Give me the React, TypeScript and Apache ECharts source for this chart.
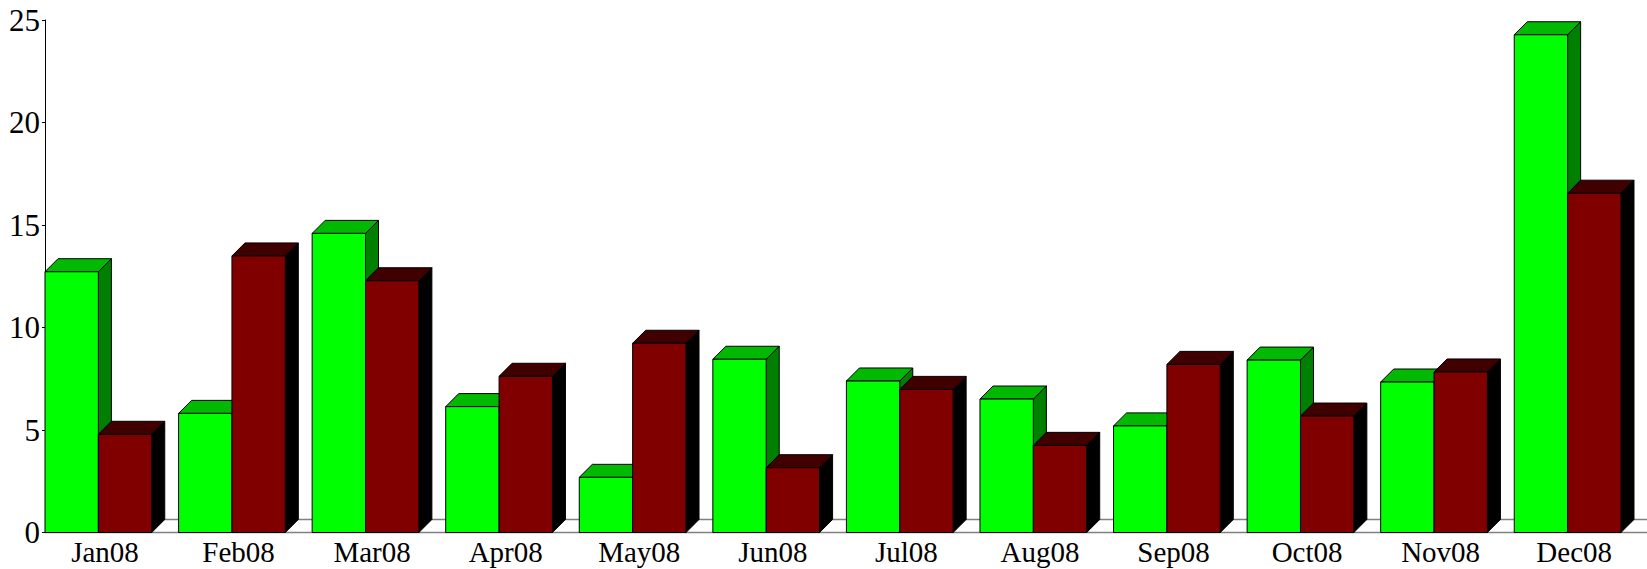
import React, { useEffect, useRef } from "react";
import * as echarts from "echarts";

const categories = ["Jan08", "Feb08", "Mar08", "Apr08", "May08", "Jun08", "Jul08", "Aug08", "Sep08", "Oct08", "Nov08", "Dec08"];
const greenValues = [12.72, 5.81, 14.59, 6.14, 2.69, 8.45, 7.39, 6.51, 5.2, 8.41, 7.34, 24.28];
const redValues = [4.79, 13.49, 12.28, 7.62, 9.23, 3.16, 6.98, 4.25, 8.2, 5.68, 7.83, 16.55];
const yTicks = { min: 0, max: 25, interval: 5 };

const FONT = "'Liberation Serif', 'Times New Roman', serif";
const BAR_FRAC = 0.3995;
const DEPTH_FRAC = 0.0975;
const START_FRAC = 0.449;

function makeBarRenderer(slot: number, front: string, topC: string, side: string) {
  return (params: any, api: any) => {
    const idx = api.value(0);
    const v = api.value(1);
    const base = api.coord([idx, 0]);
    const top = api.coord([idx, v]);
    const w = api.size([1, 0])[0];
    const bw = w * BAR_FRAC;
    const d = w * DEPTH_FRAC;
    const x0 = base[0] - w * START_FRAC + slot * bw;
    const yT = top[1];
    const yB = base[1];
    const stroke = { stroke: "#000", lineWidth: 1 };
    return {
      type: "group",
      children: [
        {
          type: "polygon",
          shape: { points: [[x0 + bw, yT], [x0 + bw + d, yT - d], [x0 + bw + d, yB - d], [x0 + bw, yB]] },
          style: { fill: side, ...stroke },
        },
        {
          type: "polygon",
          shape: { points: [[x0, yT], [x0 + d, yT - d], [x0 + bw + d, yT - d], [x0 + bw, yT]] },
          style: { fill: topC, ...stroke },
        },
        {
          type: "rect",
          shape: { x: x0, y: yT, width: bw, height: yB - yT },
          style: { fill: front, ...stroke },
        },
      ],
    };
  };
}

export default function App() {
  const ref = useRef<HTMLDivElement>(null);
  useEffect(() => {
    if (!ref.current) return;
    const chart = echarts.init(ref.current, undefined, { renderer: "svg" });
    const option: any = {
      animation: false,
      backgroundColor: "#ffffff",
      grid: { left: 38.2, top: 20, width: 1602.8, bottom: 36.5, containLabel: false },
      xAxis: {
        type: "category",
        data: categories,
        axisLine: { show: false },
        axisTick: { show: false },
        axisLabel: { fontFamily: FONT, fontSize: 29, lineHeight: 22, color: "#000", margin: 8.5, interval: 0 },
        splitLine: { show: false },
      },
      yAxis: {
        type: "value",
        min: yTicks.min,
        max: yTicks.max,
        interval: yTicks.interval,
        offset: -6.8,
        axisLine: { show: true, lineStyle: { color: "#000", width: 1 } },
        axisTick: { show: true, length: 3, lineStyle: { color: "#000" } },
        axisLabel: { fontFamily: FONT, fontSize: 31, color: "#000", margin: 5 },
        splitLine: { show: false },
      },
      series: [
        {
          type: "custom",
          name: "floor",
          silent: true,
          z: 1,
          data: [[0, 0]],
          encode: { x: 0, y: 1 },
          renderItem: (params: any, api: any) => {
            const cs = params.coordSys;
            const w = api.size([1, 0])[0];
            const d = w * DEPTH_FRAC;
            const y0 = api.coord([0, 0])[1];
            const xs = cs.x + w * (0.5 - START_FRAC);
            const xe = api.getWidth();
            return {
              type: "group",
              children: [
                { type: "line", shape: { x1: xs + d, y1: y0 - d, x2: xe, y2: y0 - d }, style: { stroke: "#808080", lineWidth: 1.5 } },
                { type: "line", shape: { x1: xs, y1: y0, x2: xe, y2: y0 }, style: { stroke: "#808080", lineWidth: 1.5 } },
              ],
            };
          },
        },
        {
          type: "custom",
          name: "Series A",
          z: 2,
          data: greenValues.map((v, i) => [i, v]),
          encode: { x: 0, y: 1 },
          renderItem: makeBarRenderer(0, "#00ff00", "#00b900", "#008000"),
        },
        {
          type: "custom",
          name: "Series B",
          z: 3,
          data: redValues.map((v, i) => [i, v]),
          encode: { x: 0, y: 1 },
          renderItem: makeBarRenderer(1, "#800000", "#400000", "#000000"),
        },
      ],
    };
    chart.setOption(option);
    return () => chart.dispose();
  }, []);
  return <div ref={ref} style={{ position: "fixed", left: 0, top: 0, width: 1647, height: 569 }} />;
}
